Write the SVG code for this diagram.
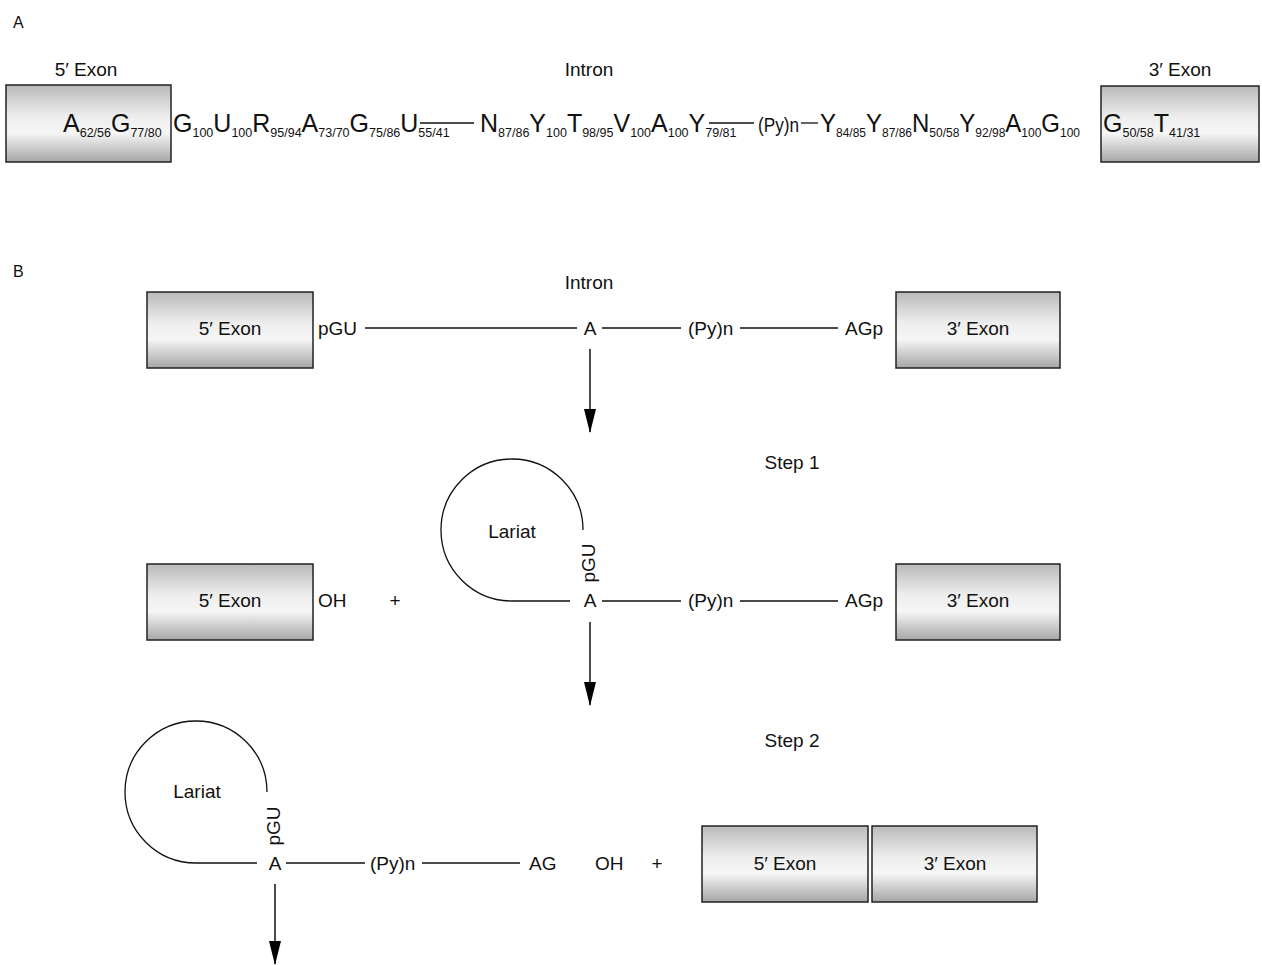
<svg xmlns="http://www.w3.org/2000/svg" width="1262" height="965" viewBox="0 0 1262 965">
<defs>
<linearGradient id="exonGrad" x1="0" y1="0" x2="0" y2="1">
<stop offset="0" stop-color="#b9b9b9"/>
<stop offset="0.4" stop-color="#ededed"/>
<stop offset="0.62" stop-color="#f6f6f6"/>
<stop offset="1" stop-color="#a6a6a6"/>
</linearGradient>
<marker id="arrow" markerUnits="userSpaceOnUse" markerWidth="24" markerHeight="12" viewBox="0 0 24 12" refX="23" refY="6" orient="auto">
<path d="M0,0 L24,6 L0,12 Z" fill="#000"/>
</marker>
</defs>
<style>
text{font-family:"Liberation Sans",Arial,sans-serif;fill:#111;}
.lbl{font-size:19px;}
.hdr{font-size:16px;}
.seq{font-size:25px;}
.sub{font-size:12.5px;}
.box{fill:url(#exonGrad);stroke:#222;stroke-width:1.5;}
.ln{stroke:#111;stroke-width:1.3;fill:none;}
.arr{stroke:#111;stroke-width:1.5;fill:none;}
</style>
<rect width="1262" height="965" fill="#fff"/>

<text class="hdr" x="13" y="28">A</text>
<text class="hdr" x="13" y="277">B</text>

<!-- Panel A -->
<g id="a-exon5">
<rect class="box" x="6" y="85" width="165" height="77"/>
<text class="lbl" x="86" y="76" text-anchor="middle">5′ Exon</text>
</g>
<g id="a-exon3">
<rect class="box" x="1101" y="86" width="158" height="76"/>
<text class="lbl" x="1180" y="76" text-anchor="middle">3′ Exon</text>
</g>
<text class="lbl" x="589" y="76" text-anchor="middle">Intron</text>
<g id="a-seq">
<text class="seq" x="63" y="132">A<tspan class="sub" dy="5">62/56</tspan><tspan dy="-5">G</tspan><tspan class="sub" dy="5">77/80</tspan></text>
<text class="seq" x="173" y="132">G<tspan class="sub" dy="5">100</tspan><tspan dy="-5">U</tspan><tspan class="sub" dy="5">100</tspan><tspan dy="-5">R</tspan><tspan class="sub" dy="5">95/94</tspan><tspan dy="-5">A</tspan><tspan class="sub" dy="5">73/70</tspan><tspan dy="-5">G</tspan><tspan class="sub" dy="5">75/86</tspan><tspan dy="-5">U</tspan><tspan class="sub" dy="5">55/41</tspan></text>
<text class="seq" x="480" y="132">N<tspan class="sub" dy="5">87/86</tspan><tspan dy="-5">Y</tspan><tspan class="sub" dy="5">100</tspan><tspan dy="-5">T</tspan><tspan class="sub" dy="5">98/95</tspan><tspan dy="-5">V</tspan><tspan class="sub" dy="5">100</tspan><tspan dy="-5">A</tspan><tspan class="sub" dy="5">100</tspan><tspan dy="-5">Y</tspan><tspan class="sub" dy="5">79/81</tspan></text>
<text x="758" y="132" style="font-size:21px" textLength="41" lengthAdjust="spacingAndGlyphs">(Py)n</text>
<text class="seq" x="820" y="132" textLength="260" lengthAdjust="spacingAndGlyphs">Y<tspan class="sub" dy="5">84/85</tspan><tspan dy="-5">Y</tspan><tspan class="sub" dy="5">87/86</tspan><tspan dy="-5">N</tspan><tspan class="sub" dy="5">50/58</tspan><tspan dy="-5">Y</tspan><tspan class="sub" dy="5">92/98</tspan><tspan dy="-5">A</tspan><tspan class="sub" dy="5">100</tspan><tspan dy="-5">G</tspan><tspan class="sub" dy="5">100</tspan></text>
<text class="seq" x="1103" y="132">G<tspan class="sub" dy="5">50/58</tspan><tspan dy="-5">T</tspan><tspan class="sub" dy="5">41/31</tspan></text>
</g>

<g id="connectors">
<!-- panel A lines -->
<line class="ln" x1="420" y1="123" x2="474" y2="123"/>
<line class="ln" x1="709" y1="123" x2="754" y2="123"/>
<line class="ln" x1="801" y1="123" x2="818" y2="123"/>
<!-- row 1 -->
<line class="ln" x1="365" y1="328" x2="577" y2="328"/>
<line class="ln" x1="602" y1="328" x2="681" y2="328"/>
<line class="ln" x1="740" y1="328" x2="838" y2="328"/>
<line class="arr" x1="590" y1="349" x2="590" y2="432" marker-end="url(#arrow)"/>
<!-- row 2 -->
<path class="ln" d="M583,530 A71,71 0 1 0 512,601 L570,601"/>
<line class="ln" x1="602" y1="601" x2="681" y2="601"/>
<line class="ln" x1="740" y1="601" x2="838" y2="601"/>
<line class="arr" x1="590" y1="622" x2="590" y2="705" marker-end="url(#arrow)"/>
<!-- row 3 -->
<path class="ln" d="M267,792 A71,71 0 1 0 196,863 L257,863"/>
<line class="ln" x1="286" y1="863" x2="365" y2="863"/>
<line class="ln" x1="422" y1="863" x2="520" y2="863"/>
<line class="arr" x1="275" y1="884" x2="275" y2="964" marker-end="url(#arrow)"/>
</g>

<!-- Panel B row 1 -->
<text class="lbl" x="589" y="289" text-anchor="middle">Intron</text>
<g id="b1-exon5">
<rect class="box" x="147" y="292" width="166" height="76"/>
<text class="lbl" x="230" y="335" text-anchor="middle">5′ Exon</text>
</g>
<text class="lbl" x="318" y="335">pGU</text>
<text class="lbl" x="590" y="335" text-anchor="middle">A</text>
<text class="lbl" x="688" y="335">(Py)n</text>
<text class="lbl" x="845" y="335">AGp</text>
<g id="b1-exon3">
<rect class="box" x="896" y="292" width="164" height="76"/>
<text class="lbl" x="978" y="335" text-anchor="middle">3′ Exon</text>
</g>
<text class="lbl" x="792" y="469" text-anchor="middle">Step 1</text>

<!-- Panel B row 2 -->
<g id="b2-exon5">
<rect class="box" x="147" y="564" width="166" height="76"/>
<text class="lbl" x="230" y="607" text-anchor="middle">5′ Exon</text>
</g>
<text class="lbl" x="318" y="607">OH</text>
<text class="lbl" x="395" y="607" text-anchor="middle">+</text>
<g id="b2-lariat">
<text class="lbl" x="512" y="538" text-anchor="middle">Lariat</text>
<text class="lbl" transform="translate(595,563) rotate(-90)" text-anchor="middle">pGU</text>
<text class="lbl" x="590" y="607" text-anchor="middle">A</text>
</g>
<text class="lbl" x="688" y="607">(Py)n</text>
<text class="lbl" x="845" y="607">AGp</text>
<g id="b2-exon3">
<rect class="box" x="896" y="564" width="164" height="76"/>
<text class="lbl" x="978" y="607" text-anchor="middle">3′ Exon</text>
</g>
<text class="lbl" x="792" y="747" text-anchor="middle">Step 2</text>

<!-- Panel B row 3 -->
<g id="b3-lariat">
<text class="lbl" x="197" y="798" text-anchor="middle">Lariat</text>
<text class="lbl" transform="translate(280,826) rotate(-90)" text-anchor="middle">pGU</text>
<text class="lbl" x="275" y="870" text-anchor="middle">A</text>
</g>
<text class="lbl" x="370" y="870">(Py)n</text>
<text class="lbl" x="529" y="870">AG</text>
<text class="lbl" x="595" y="870">OH</text>
<text class="lbl" x="657" y="870" text-anchor="middle">+</text>
<g id="b3-exon5">
<rect class="box" x="702" y="826" width="166" height="76"/>
<text class="lbl" x="785" y="870" text-anchor="middle">5′ Exon</text>
</g>
<g id="b3-exon3">
<rect class="box" x="872" y="826" width="165" height="76"/>
<text class="lbl" x="955" y="870" text-anchor="middle">3′ Exon</text>
</g>
</svg>
